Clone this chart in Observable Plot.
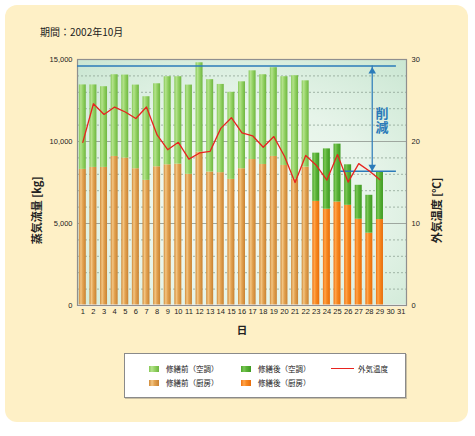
<!DOCTYPE html>
<html><head><meta charset="utf-8">
<script src="https://cdn.jsdelivr.net/npm/d3@7"></script>
<script src="https://cdn.jsdelivr.net/npm/@observablehq/plot@0.6"></script>
<style>
body{margin:0;background:#fff;}
#wrap{position:relative;width:475px;height:436px;overflow:hidden;font-family:"Noto Sans CJK JP","Noto Sans",sans-serif;}
#panel{position:absolute;left:5px;top:5px;width:463px;height:417px;background:#fef0c6;border-radius:12px;}
#title{position:absolute;left:40px;top:25px;font-size:10px;color:#222;line-height:14px;white-space:nowrap;}
#chart{position:absolute;left:0;top:0;}
#legend{position:absolute;left:124px;top:353px;width:280px;height:43px;background:#fff;border:1px solid #8a8a8a;box-shadow:1px 1px 0 #c9bfa3;}
.item{position:absolute;font-size:7.5px;line-height:10px;color:#222;white-space:nowrap;}
.sw{position:absolute;width:10px;height:6px;}
.ln{position:absolute;width:23px;height:1.5px;background:#e8231f;}
</style></head>
<body>
<div id="wrap">
  <div id="panel"></div>
  <div id="title">期間：2002年10月</div>
  <div id="chart"></div>
  <div id="legend"></div>
</div>
<script>
// ---- data ----
const days = [1,2,3,4,5,6,7,8,9,10,11,12,13,14,15,16,17,18,19,20,21,22,23,24,25,26,27,28,29];
const phase = ["修繕前","修繕前","修繕前","修繕前","修繕前","修繕前","修繕前","修繕前","修繕前","修繕前","修繕前",
               "修繕前","修繕前","修繕前","修繕前","修繕前","修繕前","修繕前","修繕前","修繕前","修繕前","修繕前",
               "修繕後","修繕後","修繕後","修繕後","修繕後","修繕後","修繕後"];
// total steam flow (kitchen + air conditioning) [kg]
const totalSteam = [13450,13450,13340,14070,14050,13440,12730,13520,13950,13950,13440,14800,13770,13480,13000,
                    13640,14310,14070,14500,13950,14010,13700,9290,9550,9840,8580,7330,6720,8140];
// kitchen steam flow [kg]
const kitchenSteam = [8300,8420,8420,9090,8990,8340,7630,8460,8580,8620,8000,9350,8140,8100,7690,
                      8340,8900,8600,9090,8540,7700,8440,6350,5870,6310,6110,5260,4410,5240];
// outdoor temperature [°C]
const outdoorTemp = [19.9,24.6,23.3,24.2,23.6,22.8,24.2,20.8,19.0,19.9,17.85,18.6,18.8,21.6,22.9,
                     21.05,20.7,19.3,20.6,18.2,15.0,18.3,17.1,15.3,18.4,15.05,17.3,16.4,15.35];
const xTickLabels = [1,2,3,4,5,6,7,8,9,10,11,12,13,14,15,16,17,18,19,20,21,22,23,24,25,26,27,28,29,30,31];
const steamTicks = [0,5000,10000,15000];
const tempTicks = [0,10,20,30];
const reductionTop = 14600;
const reductionBottom = 8180;
const reductionLineEnd = 30.55;
const reductionLowStart = 25.3;
const arrowX = 28.27;
const reductionLabelX = 29.2;
const reductionLabelY = 11550;
const reductionLabel = "削減";
const legendItems = [
  {label:"修繕前（空調）", grad:"gAB", col:0, row:0},
  {label:"修繕前（厨房）", grad:"gKB", col:0, row:1},
  {label:"修繕後（空調）", grad:"gAA", col:1, row:0},
  {label:"修繕後（厨房）", grad:"gKA", col:1, row:1},
  {label:"外気温度", line:true, col:2, row:0}
];

// ---- styles ----
const grads = {
  gAB: [[0,"#86c957"],[0.28,"#b4e28c"],[0.55,"#95d366"],[0.8,"#7fc34f"],[1,"#70b544"]],
  gAA: [[0,"#4aa52a"],[0.3,"#7ac756"],[0.55,"#59b236"],[1,"#3f9a22"]],
  gKB: [[0,"#d08a38"],[0.3,"#f3c583"],[0.55,"#e3a352"],[1,"#c98232"]],
  gKA: [[0,"#ef7412"],[0.3,"#ffa44b"],[0.55,"#f8881f"],[1,"#e76d0c"]]
};
const blue = "#2b7bb9";
const K = 15000 / 30;     // °C -> kg scale factor (right axis)
const half = 0.33;
const BEFORE = "修繕前", AFTER = "修繕後";

const rows = days.map((d,i) => ({day:d, phase:phase[i], total:totalSteam[i], kitchen:kitchenSteam[i], temp:outdoorTemp[i]}));
const minorTicks = d3.range(1000, 15000, 1000).filter(v => v % 5000 !== 0);
const majorTicks = [5000, 10000];

const cjk = "Noto Sans CJK JP";
const bar = (ph, lower, upper, grad) => Plot.rectY(rows, {
  filter: d => d.phase === ph,
  x1: d => d.day - half, x2: d => d.day + half,
  y1: lower, y2: upper, fill: `url(#${grad})`
});

const plot = Plot.plot({
  width: 475, height: 345,
  marginLeft: 77, marginRight: 69, marginTop: 59, marginBottom: 40,
  style: {background: "transparent", overflow: "visible", color: "#222", fontFamily: "Liberation Sans, Arial, sans-serif"},
  x: {type: "linear", domain: [0.5, 31.5]},
  y: {domain: [0, 15000]},
  marks: [
    Plot.frame({fill: "url(#bgGrad)"}),
    Plot.ruleY(minorTicks, {stroke: "#8fa596", strokeDasharray: "2,2", strokeWidth: 0.8}),
    Plot.ruleY(majorTicks, {stroke: "#9ea79f", strokeWidth: 1}),
    bar(BEFORE, 0, "kitchen", "gKB"),
    bar(BEFORE, "kitchen", "total", "gAB"),
    bar(AFTER, 0, "kitchen", "gKA"),
    bar(AFTER, "kitchen", "total", "gAA"),
    Plot.ruleY([0], {stroke: "#ffffff", strokeWidth: 2}),
    Plot.frame({stroke: "#8f8f8f", strokeWidth: 1.2}),
    // reduction annotation
    Plot.ruleY([reductionTop], {x1: 0.5, x2: reductionLineEnd, stroke: blue, strokeWidth: 1.5}),
    Plot.ruleY([reductionBottom], {x1: reductionLowStart, x2: reductionLineEnd, stroke: blue, strokeWidth: 1.5}),
    Plot.ruleX([arrowX], {y1: reductionBottom, y2: reductionTop, stroke: blue, strokeWidth: 1.2}),
    Plot.dot([reductionTop], {x: arrowX, y: d => d, dy: 5.2, symbol: "triangle", r: 2.8, fill: blue, stroke: null}),
    Plot.dot([reductionBottom], {x: arrowX, y: d => d, dy: -4.4, symbol: "triangle", rotate: 180, r: 2.8, fill: blue, stroke: null}),
    Plot.text([reductionLabel], {x: reductionLabelX, y: reductionLabelY, fill: blue, fontSize: 13, fontWeight: "bold", fontFamily: cjk, className: "vlabel"}),
    // temperature line
    Plot.line(rows, {x: "day", y: d => d.temp * K, stroke: "#e8231f", strokeWidth: 1.3}),
    // axes
    Plot.axisY(steamTicks, {anchor: "left", tickSize: 0, tickPadding: 5, tickFormat: d3.format(","), fontSize: 7.5, label: null}),
    Plot.axisY(tempTicks.map(t => t * K), {anchor: "right", tickSize: 0, tickPadding: 5, tickFormat: d => String(d / K), fontSize: 7.5, label: null}),
    Plot.axisX(xTickLabels, {anchor: "bottom", tickSize: 0, tickPadding: 3, fontSize: 7.5, label: null}),
    Plot.text(["蒸気流量 [kg]"], {x: 0.5, y: 5800, dx: -40, rotate: -90, fontSize: 11, fontWeight: "bold", fontFamily: cjk, fill: "#222"}),
    Plot.text(["外気温度 [℃]"], {x: 31.5, y: 5800, dx: 31, rotate: -90, fontSize: 11, fontWeight: "bold", fontFamily: cjk, fill: "#222"}),
    Plot.text(["日"], {x: 16, y: 0, dy: 25, fontSize: 10.5, fontWeight: "bold", fontFamily: cjk, fill: "#222"})
  ]
});

// vertical writing for the reduction label (single text element, upright CJK glyphs)
d3.select(plot).selectAll("text").filter(function() { return this.textContent === reductionLabel; })
  .attr("writing-mode", "tb").style("writing-mode", "vertical-rl").attr("dy", null).style("letter-spacing", "1px");

// gradient definitions
const defs = d3.select(plot).insert("defs", ":first-child");
const bg = defs.append("radialGradient").attr("id", "bgGrad").attr("cx", "50%").attr("cy", "58%").attr("r", "75%");
[[0,"#f7fbf5"],[0.55,"#e6f4e9"],[1,"#cbe7d3"]].forEach(([o,c]) => bg.append("stop").attr("offset", o).attr("stop-color", c));
for (const [id, stops] of Object.entries(grads)) {
  const g = defs.append("linearGradient").attr("id", id).attr("x1", 0).attr("x2", 1).attr("y1", 0).attr("y2", 0);
  stops.forEach(([o,c]) => g.append("stop").attr("offset", o).attr("stop-color", c));
}
document.getElementById("chart").appendChild(plot);

// legend
const legend = document.getElementById("legend");
const colX = [{sw:24, tx:41}, {sw:115.7, tx:133}, {sw:205.7, tx:233}];
const rowY = [14.7, 28.7];
for (const it of legendItems) {
  const cx = colX[it.col], cy = rowY[it.row];
  const mark = document.createElement("div");
  if (it.line) {
    mark.className = "ln";
    mark.style.left = cx.sw + "px";
    mark.style.top = (cy - 0.75) + "px";
  } else {
    mark.className = "sw";
    mark.style.left = cx.sw + "px";
    mark.style.top = (cy - 3) + "px";
    mark.style.background = "linear-gradient(to right," + grads[it.grad].map(([o,c]) => `${c} ${o*100}%`).join(",") + ")";
  }
  legend.appendChild(mark);
  const t = document.createElement("div");
  t.className = "item";
  t.textContent = it.label;
  t.style.left = cx.tx + "px";
  t.style.top = (cy - 5) + "px";
  legend.appendChild(t);
}
</script>
</body></html>
